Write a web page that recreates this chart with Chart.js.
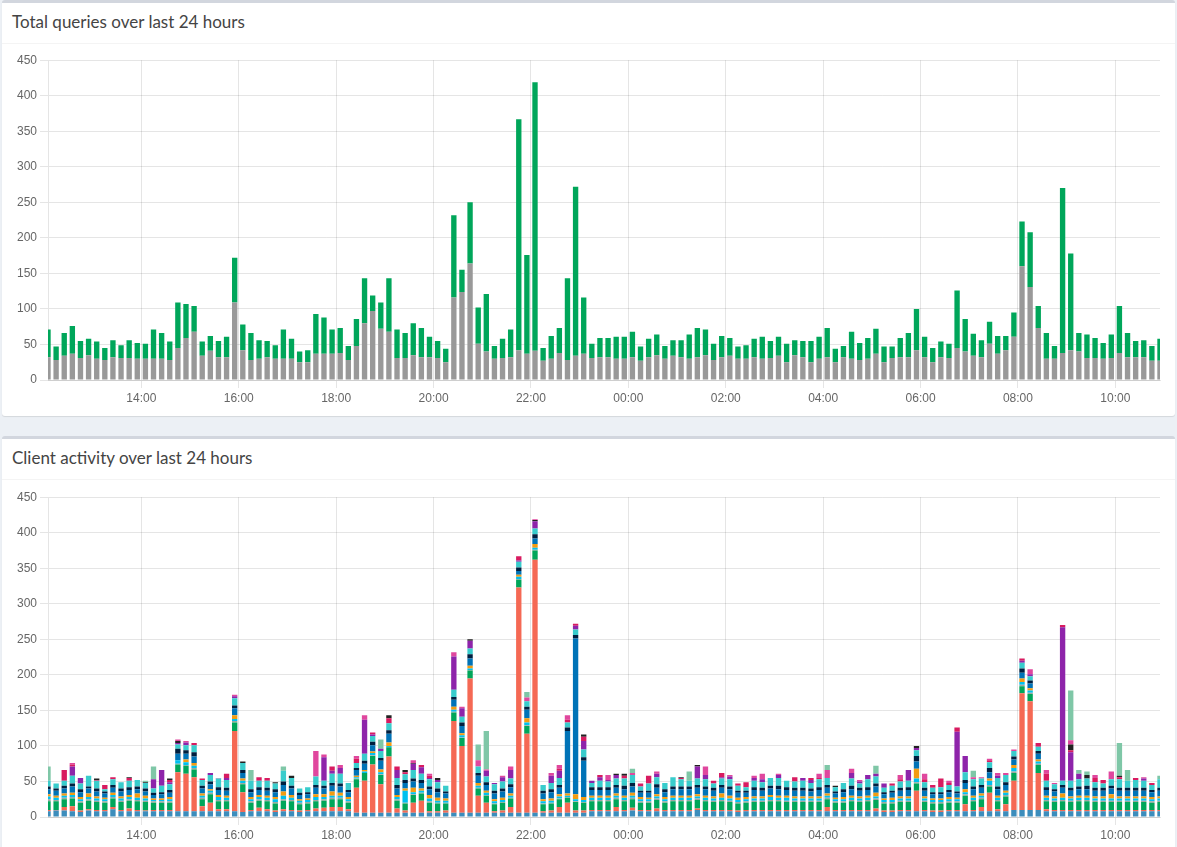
<!DOCTYPE html>
<html>
<head>
<meta charset="utf-8">
<title>Queries over last 24 hours</title>
<script src="https://cdn.jsdelivr.net/npm/chart.js@4.4.1/dist/chart.umd.min.js"></script>
<style>
  html, body { margin: 0; padding: 0; }
  body {
    background: #ecf0f5;
    width: 1177px;
    height: 847px;
    overflow: hidden;
    position: relative;
    font-family: "Source Sans Pro", Lato, "Noto Sans", sans-serif;
  }
  .box {
    position: absolute;
    left: 2px;
    width: 1173px;
    background: #fff;
    border-top: 3px solid #d2d6de;
    border-radius: 3px;
    box-shadow: 0 1px 1px rgba(0, 0, 0, 0.1);
  }
  .box-header { height: 40px; border-bottom: 1px solid #f4f4f4; position: relative; }
  .box-title {
    position: absolute;
    left: 10px;
    top: 9px;
    margin: 0;
    font-size: 17px;
    font-weight: normal;
    line-height: 20px;
    color: #444;
    white-space: nowrap;
  }
  .chart-wrap { position: absolute; left: 0; width: 1170px; height: 356px; }
</style>
</head>
<body>

<div class="box" style="top:0; height:413px;">
  <div class="box-header"><h3 class="box-title">Total queries over last 24 hours</h3></div>
</div>
<div class="box" style="top:436px; height:420px;">
  <div class="box-header"><h3 class="box-title">Client activity over last 24 hours</h3></div>
</div>

<div class="chart-wrap" style="top:50px;"><canvas id="queriesChart" width="1170" height="356"></canvas></div>
<div class="chart-wrap" style="top:487px;"><canvas id="clientsChart" width="1170" height="356"></canvas></div>

<script>
// 10-minute slots, first one centred at 12:05
const firstSlot = '12:05';
const slotStep = 10;
const tickLabels = ['14:00', '16:00', '18:00', '20:00', '22:00', '00:00', '02:00', '04:00', '06:00', '08:00', '10:00'];

// Total queries chart
const blocked = [
  32, 28, 34, 37, 31, 35, 30, 28, 32, 31,
  31, 30, 30, 30, 30, 28, 45, 59, 68, 34,
  41, 32, 32, 109, 42, 28, 30, 32, 30, 30,
  30, 25, 25, 37, 37, 37, 38, 28, 48, 80,
  97, 72, 68, 31, 31, 35, 32, 32, 31, 25,
  116, 124, 164, 51, 40, 30, 31, 32, 42, 37,
  41, 27, 30, 38, 28, 34, 37, 31, 32, 32,
  30, 30, 32, 27, 32, 35, 30, 34, 32, 30,
  32, 35, 28, 32, 34, 30, 30, 32, 30, 31,
  34, 25, 35, 32, 25, 30, 32, 25, 32, 30,
  28, 30, 37, 25, 31, 32, 32, 42, 32, 25,
  32, 31, 45, 40, 34, 32, 51, 37, 42, 61,
  160, 131, 73, 30, 30, 38, 42, 40, 31, 31,
  30, 31, 38, 32, 32, 32, 27, 27
];
const permitted = [
  39, 19, 32, 39, 24, 23, 24, 17, 24, 18,
  25, 22, 21, 41, 36, 26, 64, 48, 36, 20,
  21, 23, 29, 63, 36, 38, 26, 23, 19, 41,
  28, 15, 17, 56, 51, 34, 35, 20, 38, 63,
  22, 37, 75, 40, 35, 45, 41, 29, 24, 19,
  116, 31, 86, 51, 81, 18, 27, 39, 325, 139,
  378, 18, 32, 35, 115, 238, 79, 20, 27, 27,
  31, 31, 36, 20, 26, 29, 18, 22, 24, 34,
  41, 36, 23, 30, 25, 17, 19, 26, 31, 24,
  27, 26, 21, 23, 30, 31, 41, 19, 16, 38,
  24, 29, 35, 22, 16, 27, 34, 58, 29, 20,
  22, 20, 81, 46, 31, 24, 31, 25, 20, 34,
  63, 77, 31, 36, 18, 232, 136, 26, 33, 28,
  22, 33, 66, 34, 23, 24, 21, 31
];

// Client activity chart, one array per client (bottom of the stack first)
const client01 = [
  8, 9, 9, 8, 7, 9, 8, 8, 11, 8,
  8, 8, 8, 8, 8, 8, 8, 8, 8, 8,
  8, 8, 8, 8, 7, 8, 8, 8, 7, 8,
  8, 7, 8, 8, 8, 8, 8, 8, 6, 6,
  6, 6, 6, 6, 6, 6, 6, 6, 6, 6,
  6, 6, 6, 6, 6, 6, 6, 6, 6, 6,
  6, 6, 6, 6, 6, 6, 6, 8, 8, 8,
  8, 8, 9, 8, 8, 8, 8, 8, 8, 8,
  10, 8, 8, 8, 8, 7, 8, 8, 8, 8,
  8, 8, 8, 8, 8, 8, 8, 8, 8, 8,
  8, 8, 8, 7, 7, 8, 8, 8, 8, 7,
  7, 8, 8, 8, 8, 8, 8, 8, 8, 10,
  10, 10, 10, 8, 8, 8, 8, 8, 8, 8,
  8, 8, 8, 8, 8, 8, 8, 8
];
const client02 = [
  2, 1, 5, 7, 2, 2, 2, 2, 3, 2,
  4, 2, 1, 2, 2, 2, 55, 53, 48, 7,
  12, 3, 3, 113, 28, 2, 5, 3, 2, 3,
  2, 2, 2, 4, 5, 6, 6, 3, 35, 45,
  68, 40, 79, 6, 3, 14, 17, 2, 2, 3,
  129, 94, 189, 24, 14, 2, 3, 8, 317, 111,
  356, 2, 3, 8, 14, 3, 3, 2, 2, 2,
  6, 2, 4, 2, 2, 4, 2, 2, 2, 2,
  2, 2, 2, 2, 2, 2, 2, 2, 2, 2,
  2, 2, 2, 2, 2, 2, 6, 2, 2, 2,
  2, 2, 4, 2, 2, 2, 2, 29, 2, 2,
  2, 2, 2, 10, 2, 6, 26, 3, 10, 41,
  164, 153, 52, 3, 2, 2, 2, 2, 2, 2,
  2, 2, 2, 2, 2, 2, 2, 2
];
const client03 = [
  12, 12, 11, 11, 11, 12, 11, 10, 12, 11,
  11, 12, 12, 10, 10, 10, 11, 11, 11, 10,
  12, 11, 11, 12, 11, 10, 10, 11, 10, 12,
  12, 9, 9, 10, 10, 11, 11, 9, 12, 11,
  12, 13, 13, 11, 10, 11, 10, 12, 11, 10,
  12, 11, 11, 10, 10, 10, 11, 12, 11, 11,
  13, 10, 10, 11, 7, 12, 11, 12, 12, 12,
  11, 12, 12, 10, 10, 12, 10, 12, 12, 12,
  12, 12, 11, 12, 11, 10, 10, 11, 11, 12,
  12, 11, 11, 11, 11, 11, 11, 10, 10, 12,
  11, 12, 12, 10, 10, 11, 11, 10, 11, 10,
  10, 10, 10, 12, 12, 11, 9, 11, 11, 11,
  10, 10, 11, 11, 11, 12, 11, 12, 12, 11,
  11, 11, 11, 11, 11, 11, 10, 11
];
const client04 = [
  3, 2, 2, 2, 2, 2, 2, 2, 2, 2,
  2, 2, 2, 2, 2, 2, 1, 1, 2, 2,
  2, 2, 2, 2, 2, 2, 2, 2, 2, 2,
  2, 2, 2, 2, 2, 2, 2, 2, 1, 0,
  1, 1, 0, 2, 1, 1, 1, 2, 1, 1,
  1, 1, 1, 1, 1, 1, 1, 1, 1, 1,
  1, 1, 1, 1, 1, 1, 1, 2, 2, 2,
  2, 2, 2, 2, 2, 2, 2, 2, 2, 2,
  2, 2, 2, 2, 2, 2, 2, 2, 2, 2,
  2, 2, 2, 2, 2, 2, 2, 2, 2, 2,
  2, 2, 2, 2, 2, 2, 2, 2, 2, 2,
  2, 2, 2, 2, 2, 2, 2, 2, 2, 2,
  2, 2, 2, 2, 2, 2, 2, 2, 2, 2,
  2, 2, 2, 2, 2, 2, 2, 2
];
const client05 = [
  4, 3, 3, 3, 3, 3, 3, 3, 3, 3,
  3, 3, 3, 2, 2, 3, 5, 4, 3, 3,
  3, 4, 3, 3, 3, 3, 3, 3, 4, 5,
  3, 3, 3, 4, 3, 3, 3, 3, 2, 2,
  3, 3, 2, 3, 17, 3, 3, 4, 3, 3,
  3, 3, 2, 3, 3, 3, 3, 3, 3, 4,
  3, 3, 3, 3, 2, 3, 3, 3, 3, 3,
  3, 3, 3, 3, 3, 3, 3, 3, 3, 3,
  3, 3, 3, 3, 3, 3, 3, 3, 3, 4,
  3, 4, 3, 3, 3, 3, 3, 3, 3, 3,
  3, 3, 3, 3, 3, 3, 3, 5, 3, 3,
  3, 3, 3, 3, 3, 3, 6, 3, 3, 5,
  4, 3, 3, 3, 3, 3, 3, 3, 3, 3,
  3, 3, 3, 3, 3, 3, 3, 3
];
const client06 = [
  3, 3, 3, 3, 3, 5, 3, 2, 3, 3,
  3, 6, 4, 2, 2, 3, 0, 4, 4, 3,
  2, 3, 3, 5, 3, 3, 3, 3, 3, 6,
  4, 2, 2, 4, 4, 6, 4, 3, 2, 2,
  2, 4, 5, 3, 3, 6, 3, 5, 4, 3,
  4, 3, 4, 4, 3, 3, 3, 3, 3, 6,
  5, 3, 3, 3, 3, 7, 4, 3, 3, 3,
  3, 3, 4, 3, 2, 3, 3, 3, 3, 3,
  3, 3, 3, 6, 4, 3, 3, 3, 3, 3,
  3, 3, 3, 3, 3, 3, 3, 2, 3, 3,
  3, 3, 5, 2, 3, 3, 3, 14, 3, 2,
  2, 3, 2, 4, 3, 3, 3, 3, 3, 4,
  5, 3, 3, 3, 3, 6, 3, 3, 3, 3,
  3, 6, 3, 3, 3, 3, 3, 3
];
const client07 = [
  7, 7, 7, 9, 7, 7, 7, 6, 7, 7,
  7, 6, 6, 5, 6, 6, 9, 8, 9, 7,
  7, 7, 7, 10, 8, 7, 7, 7, 7, 9,
  9, 6, 6, 9, 8, 8, 9, 7, 8, 9,
  9, 12, 12, 9, 8, 9, 8, 8, 8, 7,
  10, 10, 10, 10, 8, 8, 9, 9, 5, 12,
  8, 8, 9, 9, 88, 219, 51, 8, 8, 8,
  8, 9, 9, 6, 7, 9, 7, 9, 9, 9,
  9, 9, 8, 8, 9, 7, 6, 9, 8, 9,
  9, 8, 8, 8, 7, 9, 8, 6, 7, 9,
  8, 8, 9, 6, 7, 8, 9, 10, 8, 6,
  6, 7, 6, 9, 9, 8, 9, 9, 8, 8,
  8, 7, 8, 8, 7, 8, 8, 9, 9, 8,
  8, 8, 8, 8, 8, 8, 7, 8
];
const client08 = [
  4, 3, 4, 4, 4, 3, 4, 3, 4, 4,
  4, 4, 4, 3, 3, 4, 7, 5, 6, 4,
  4, 4, 4, 4, 4, 4, 4, 4, 4, 5,
  4, 3, 3, 4, 4, 4, 4, 3, 3, 4,
  5, 4, 5, 5, 4, 4, 4, 4, 5, 3,
  4, 5, 6, 4, 4, 4, 4, 4, 5, 4,
  6, 4, 4, 4, 5, 5, 5, 4, 4, 4,
  4, 5, 5, 3, 3, 5, 4, 4, 4, 4,
  4, 4, 4, 4, 4, 3, 3, 4, 4, 4,
  5, 4, 4, 4, 4, 4, 4, 3, 4, 5,
  4, 4, 4, 3, 3, 4, 4, 8, 4, 3,
  3, 3, 3, 4, 4, 4, 6, 4, 4, 4,
  6, 4, 4, 4, 3, 4, 4, 4, 5, 4,
  4, 4, 4, 4, 4, 4, 3, 4
];
const client09 = [
  8, 7, 7, 11, 8, 15, 11, 3, 8, 9,
  9, 9, 8, 6, 9, 8, 6, 7, 10, 8,
  9, 12, 11, 10, 10, 12, 9, 10, 8, 15,
  11, 6, 7, 12, 7, 13, 14, 10, 7, 10,
  8, 10, 10, 10, 8, 12, 9, 10, 9, 8,
  10, 8, 8, 9, 8, 9, 10, 8, 8, 8,
  8, 8, 9, 10, 7, 8, 11, 6, 9, 8,
  9, 10, 11, 6, 10, 10, 9, 13, 10, 8,
  9, 10, 6, 9, 10, 7, 5, 9, 8, 11,
  11, 9, 9, 10, 8, 11, 10, 6, 9, 10,
  6, 11, 10, 6, 7, 9, 9, 8, 8, 6,
  7, 7, 7, 11, 10, 9, 8, 12, 10, 8,
  8, 6, 6, 9, 7, 6, 10, 10, 10, 8,
  6, 9, 12, 10, 11, 10, 7, 12
];
const client10 = [
  0, 0, 0, 13, 8, 0, 0, 0, 0, 0,
  0, 0, 0, 13, 22, 3, 2, 4, 0, 0,
  3, 0, 3, 3, 0, 0, 0, 0, 0, 0,
  0, 0, 0, 0, 33, 4, 8, 0, 0, 48,
  2, 3, 0, 11, 0, 9, 9, 2, 3, 0,
  47, 12, 11, 0, 8, 2, 6, 12, 2, 0,
  10, 0, 10, 10, 0, 5, 12, 3, 5, 2,
  5, 0, 0, 0, 0, 5, 0, 0, 0, 0,
  17, 6, 0, 2, 4, 0, 0, 4, 4, 0,
  4, 0, 0, 4, 4, 0, 0, 0, 0, 8,
  3, 6, 4, 6, 0, 0, 15, 3, 0, 0,
  0, 0, 77, 23, 0, 0, 0, 3, 0, 0,
  3, 3, 0, 0, 0, 216, 40, 8, 0, 0,
  0, 0, 0, 0, 0, 3, 0, 0
];
const client11 = [
  0, 0, 15, 3, 0, 0, 1, 6, 3, 0,
  4, 0, 0, 0, 0, 3, 0, 0, 3, 2,
  0, 0, 6, 0, 0, 0, 5, 4, 0, 0,
  0, 0, 0, 0, 0, 6, 0, 0, 6, 0,
  3, 0, 7, 5, 3, 0, 3, 3, 0, 0,
  0, 0, 0, 0, 0, 0, 0, 0, 6, 0,
  0, 0, 0, 3, 4, 3, 6, 0, 3, 0,
  0, 4, 0, 4, 11, 0, 0, 0, 2, 0,
  0, 0, 4, 6, 0, 3, 7, 0, 0, 0,
  0, 0, 6, 0, 3, 2, 0, 0, 0, 0,
  0, 0, 0, 0, 3, 3, 0, 0, 4, 4,
  12, 3, 6, 0, 0, 0, 3, 0, 0, 0,
  3, 0, 5, 10, 0, 3, 3, 0, 0, 6,
  5, 0, 3, 0, 3, 0, 3, 0
];
const client12 = [
  0, 0, 0, 0, 0, 0, 2, 0, 0, 0,
  1, 0, 1, 0, 0, 2, 3, 0, 0, 0,
  0, 0, 0, 0, 2, 0, 0, 0, 2, 0,
  3, 0, 0, 0, 0, 0, 0, 0, 0, 0,
  0, 0, 4, 0, 3, 1, 0, 0, 3, 0,
  0, 0, 2, 0, 0, 0, 0, 0, 0, 0,
  2, 0, 0, 0, 0, 0, 3, 0, 0, 0,
  2, 3, 0, 0, 0, 0, 0, 0, 1, 0,
  2, 0, 0, 0, 0, 0, 0, 0, 0, 0,
  0, 0, 0, 0, 0, 0, 0, 2, 0, 0,
  0, 0, 0, 0, 0, 0, 0, 3, 0, 0,
  0, 0, 0, 0, 0, 0, 0, 0, 0, 0,
  0, 0, 0, 0, 0, 0, 8, 0, 5, 0,
  0, 0, 2, 0, 0, 0, 0, 0
];
const client13 = [
  0, 0, 0, 2, 0, 0, 0, 0, 0, 0,
  0, 0, 0, 0, 0, 0, 2, 2, 0, 0,
  0, 1, 0, 2, 0, 0, 0, 0, 0, 0,
  0, 0, 0, 36, 4, 0, 4, 0, 4, 6,
  0, 0, 0, 0, 0, 4, 0, 3, 0, 0,
  6, 2, 0, 9, 2, 0, 2, 5, 0, 5,
  1, 0, 4, 5, 6, 0, 0, 0, 0, 7,
  0, 0, 3, 0, 0, 3, 0, 0, 0, 0,
  0, 12, 0, 0, 2, 0, 0, 3, 8, 0,
  2, 0, 0, 0, 0, 6, 11, 0, 0, 6,
  2, 0, 0, 0, 0, 6, 0, 0, 8, 0,
  0, 3, 0, 0, 3, 2, 2, 4, 3, 2,
  0, 7, 0, 5, 2, 0, 6, 0, 0, 4,
  0, 11, 0, 0, 0, 2, 0, 0
];
const client14 = [
  20, 0, 0, 0, 0, 0, 0, 0, 0, 0,
  0, 0, 2, 18, 0, 0, 0, 0, 0, 0,
  0, 0, 0, 0, 0, 15, 0, 0, 0, 6,
  0, 0, 0, 0, 0, 0, 0, 0, 0, 0,
  0, 13, 0, 0, 0, 0, 0, 0, 0, 0,
  0, 0, 0, 22, 54, 0, 0, 0, 0, 8,
  0, 0, 0, 0, 0, 0, 0, 0, 0, 0,
  0, 0, 6, 0, 0, 0, 0, 0, 0, 13,
  0, 0, 0, 0, 0, 0, 0, 0, 0, 0,
  0, 0, 0, 0, 0, 0, 7, 0, 0, 0,
  0, 0, 11, 0, 0, 0, 0, 0, 0, 0,
  0, 0, 0, 0, 9, 0, 0, 0, 0, 0,
  0, 0, 0, 0, 0, 0, 70, 5, 5, 0,
  0, 0, 46, 15, 0, 0, 0, 5
];

const clientSeries = [client01, client02, client03, client04, client05, client06, client07,
  client08, client09, client10, client11, client12, client13, client14];
const clientColors = ['#3c8dbc', '#f56954', '#00a65a', '#9aa9a2', '#00c0ef', '#f39c12', '#0073b7',
  '#001f3f', '#39cccc', '#8e24aa', '#d81b60', '#222222', '#e0479e', '#7fc7a7'];

// minutes after 12:00 for each slot and tick
function toMinutes(hhmm) {
  const [h, m] = hhmm.split(':').map(Number);
  return ((h - 12 + 24) % 24) * 60 + m;
}
function toLabel(mins) {
  const t = (mins + 12 * 60) % (24 * 60);
  return String(Math.floor(t / 60)).padStart(2, '0') + ':' + String(t % 60).padStart(2, '0');
}

const slotMinutes = blocked.map((_, i) => toMinutes(firstSlot) + i * slotStep);
const tickMinutes = tickLabels.map(toMinutes);

function points(values) {
  return values.map((v, i) => ({ x: slotMinutes[i], y: v }));
}

function makeChart(id, datasets) {
  return new Chart(document.getElementById(id), {
    type: 'bar',
    data: { datasets: datasets },
    options: {
      responsive: false,
      animation: false,
      layout: { padding: { top: 10, right: 10, left: 0, bottom: 0 } },
      plugins: {
        legend: { display: false },
        tooltip: { enabled: false }
      },
      datasets: {
        bar: { barPercentage: 0.66, categoryPercentage: 1.0 }
      },
      scales: {
        x: {
          type: 'linear',
          stacked: true,
          offset: false,
          min: slotMinutes[0],
          max: slotMinutes[slotMinutes.length - 1],
          afterBuildTicks: function(scale) {
            scale.ticks = tickMinutes.map(v => ({ value: v }));
          },
          afterFit: function(scale) { scale.height = 26; },
          ticks: {
            autoSkip: false,
            maxRotation: 0,
            color: '#666',
            font: { size: 12 },
            callback: function(value) { return toLabel(value); }
          },
          grid: { offset: false, color: 'rgba(0,0,0,0.1)' }
        },
        y: {
          stacked: true,
          min: 0,
          max: 450,
          afterFit: function(scale) { scale.width = 48; },
          ticks: { stepSize: 50, color: '#666', font: { size: 12 } },
          grid: { color: 'rgba(0,0,0,0.1)' }
        }
      }
    }
  });
}

makeChart('queriesChart', [
  { label: 'Blocked DNS Queries', data: points(blocked), backgroundColor: '#999999' },
  { label: 'Permitted DNS Queries', data: points(permitted), backgroundColor: '#00a65a' }
]);

makeChart('clientsChart', clientSeries.map((values, i) => ({
  label: 'Client ' + (i + 1),
  data: points(values),
  backgroundColor: clientColors[i]
})));
</script>
</body>
</html>
